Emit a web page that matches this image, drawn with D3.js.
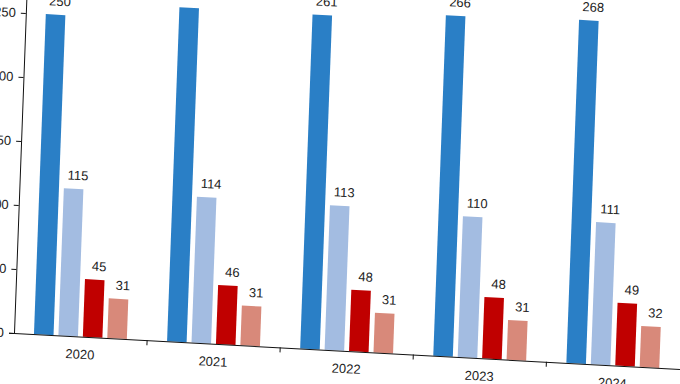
<!DOCTYPE html>
<html><head><meta charset="utf-8">
<script src="https://cdn.jsdelivr.net/npm/d3@7"></script>
<style>html,body{margin:0;padding:0;background:#fff;overflow:hidden}svg{display:block}text{font-family:"Liberation Sans",Arial,sans-serif}</style>
</head><body>
<svg id="c" width="680" height="384"></svg>
<script>
const years = ["2020","2021","2022","2023","2024"];
const seriesNames = ["s1","s2","s3","s4"];
const s1 = [250, 261, 261, 266, 268];
const s2 = [115, 114, 113, 110, 111];
const s3 = [45, 46, 48, 48, 49];
const s4 = [31, 31, 31, 31, 32];
const yTicks = [0, 50, 100, 150, 200, 250];
const colors = ["#2a7fc6", "#a3bce1", "#c00000", "#d8897a"];

const values = [s1, s2, s3, s4];
const svg = d3.select("#c");
svg.append("rect").attr("width",680).attr("height",384).attr("fill","#fff");
// slightly tilted frame, as in the reference photo
const g = svg.append("g").attr("transform","matrix(0.9985,0.054,-0.037,1,14,333)");

const x = d3.scaleBand().domain(years).range([0, 666.5]);
const xs = d3.scaleBand().domain(seriesNames).range([20, 113]).paddingInner(0.2);
const y = d3.scaleLinear().domain([0, 300]).range([0, -384]);

// bars
years.forEach((yr, i) => {
  const grp = g.append("g").attr("transform", `translate(${x(yr)},0)`);
  seriesNames.forEach((s, j) => {
    const v = values[j][i];
    grp.append("rect")
      .attr("x", xs(s)).attr("width", xs.bandwidth())
      .attr("y", y(v)).attr("height", -y(v))
      .attr("fill", colors[j]);
    grp.append("text")
      .attr("x", xs(s) + xs.bandwidth()/2 + 4)
      .attr("y", y(v) - 9)
      .attr("text-anchor","middle")
      .attr("font-size", 13).attr("fill","#222")
      .text(v);
  });
});

// y axis
const yAxisG = g.append("g").call(d3.axisLeft(y).tickValues(yTicks).tickSize(5).tickPadding(5).tickFormat(d3.format("d")));
yAxisG.select(".domain").attr("stroke","#111");
yAxisG.selectAll(".tick line").attr("stroke","#111");
yAxisG.selectAll("text").attr("font-size",13).attr("fill","#222").style("font-family","Liberation Sans, Arial, sans-serif");

// x axis
const xAxisG = g.append("g").call(d3.axisBottom(x).tickSize(0).tickPadding(13));
xAxisG.select(".domain").attr("stroke","#111");
xAxisG.selectAll("text").attr("font-size",13).attr("fill","#222").style("font-family","Liberation Sans, Arial, sans-serif");
// boundary ticks between categories
g.selectAll(".bt").data(years.slice(1)).enter().append("line")
  .attr("x1", d => x(d)).attr("x2", d => x(d))
  .attr("y1", 0).attr("y2", 5).attr("stroke","#111");
</script>
</body></html>
